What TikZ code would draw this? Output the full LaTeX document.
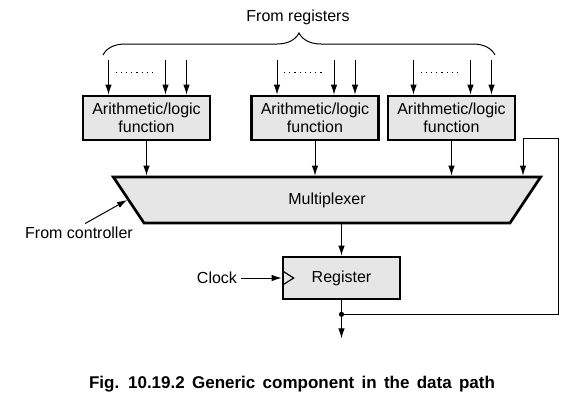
\documentclass[tikz,border=0pt]{standalone}
\usepackage{fontspec}
\setmainfont{Liberation Sans}
\usetikzlibrary{calc,shapes.geometric,decorations.pathreplacing,arrows.meta}
\definecolor{unitfill}{HTML}{E6E6E6}

\tikzset{
  unit/.style={draw,line width=2.7pt,fill=unitfill,align=center,inner sep=0pt},
  wire/.style={line width=1pt,-{Latex[length=10pt,width=6.5pt]}}
}

\begin{document}
\begin{tikzpicture}[x=1pt,y=-1pt,font=\fontsize{16}{18}\selectfont]
  \useasboundingbox (0,0) rectangle (582,402);
  \node (regs) at (298,17) {From registers};
  \draw[line width=1pt,decorate,decoration={brace,amplitude=22pt}] (103,55) -- (495,55);
  % function units: index / centre x
  \foreach \i/\x in {1/146.5,2/315,3/451.5}{
    \node[unit,minimum width=127pt,minimum height=44pt] (alu\i) at (\x,118) {Arithmetic/logic\\function};
    \foreach \j/\dx in {a/-38,b/19,c/40}{
      \coordinate (in\i\j) at ($(alu\i.north)+(\dx,-35)$);
      \draw[wire] (in\i\j) -- (in\i\j |- alu\i.north);
    }
    \draw[line width=1pt,dash pattern=on 1.2pt off 4pt] ($(alu\i.north)+(-31,-22)$) -- ($(alu\i.north)+(9,-22)$);
  }
  \node[unit,trapezium,shape border rotate=180,trapezium angle=66.5,trapezium stretches=true,
        minimum width=430pt,minimum height=46pt] (mux) at (327,200) {Multiplexer};
  \foreach \i in {1,2,3}
    \draw[wire] (alu\i.south) -- (alu\i.south |- mux.north);
  \node (ctrl) at (79,233) {From controller};
  \draw[wire] ([xshift=6pt]ctrl.north) -- (mux.west);
  % register and clock
  \node[unit,minimum width=117pt,minimum height=42pt] (reg) at (341.5,278) {Register};
  \draw[wire] (reg.north |- mux.south) -- (reg.north);
  \node (clk) at (217,278) {Clock};
  \draw[wire] (clk.east) -- (reg.west);
  \draw[line width=1.2pt] ([xshift=1pt,yshift=7pt]reg.west) -- ([xshift=12pt]reg.west) -- ([xshift=1pt,yshift=-7pt]reg.west);
  % output and feedback
  \coordinate (tap) at ($(reg.south)+(0,14)$);
  \coordinate (out) at ($(tap)+(0,24)$);
  \coordinate (fbtop) at (523,138);
  \draw[wire] (reg.south) -- (out);
  \fill (tap) circle (2.6pt);
  \draw[wire] (tap) -- ++(217,0) |- (fbtop) -- (fbtop |- mux.north);
  \node[font=\bfseries\fontsize{17}{20}\selectfont] (cap) at (292,384) {\spaceskip=7.3pt Fig. 10.19.2 Generic component in the data path};
\end{tikzpicture}
\end{document}
